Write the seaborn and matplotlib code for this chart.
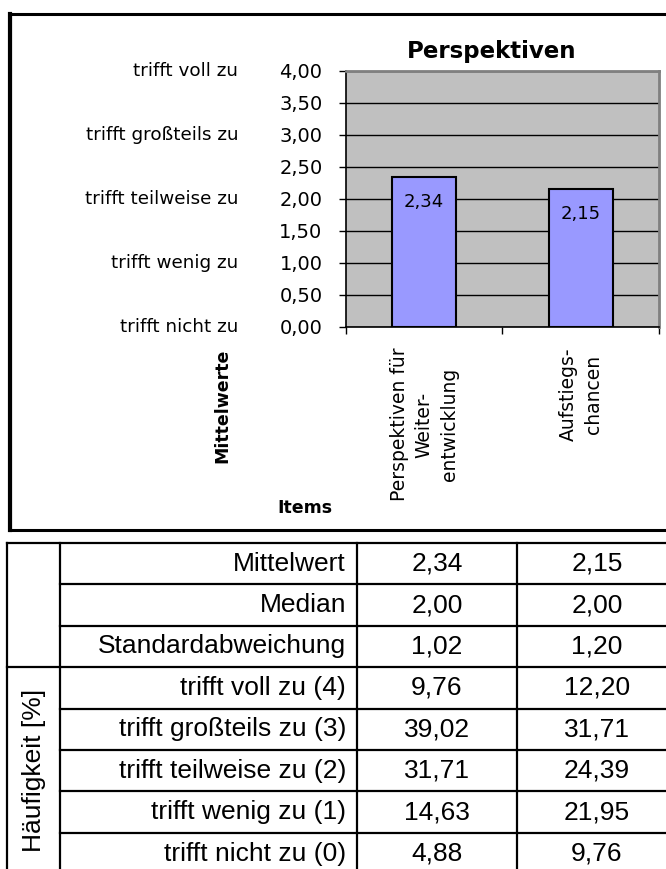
import numpy as np
import pandas as pd
import matplotlib
matplotlib.use("Agg")
import matplotlib.pyplot as plt
import matplotlib.transforms as mtransforms
from matplotlib.ticker import FuncFormatter, FixedLocator
from matplotlib.patches import Rectangle
import seaborn as sns

# ---------------- data ----------------
items = ["Perspektiven für\nWeiter-\nentwicklung", "Aufstiegs-\nchancen"]
mittelwert = [2.34, 2.15]
median = [2.00, 2.00]
std_abw = [1.02, 1.20]
scale_labels = ["trifft nicht zu", "trifft wenig zu", "trifft teilweise zu",
                "trifft großteils zu", "trifft voll zu"]
scale_values = [0, 1, 2, 3, 4]
freq_labels = ["trifft voll zu (4)", "trifft großteils zu (3)", "trifft teilweise zu (2)",
               "trifft wenig zu (1)", "trifft nicht zu (0)"]
freq_item1 = [9.76, 39.02, 31.71, 14.63, 4.88]
freq_item2 = [12.20, 31.71, 24.39, 21.95, 9.76]
stat_labels = ["Mittelwert", "Median", "Standardabweichung"]

df = pd.DataFrame({"item": items, "mittelwert": mittelwert})

def de(v):
    return f"{v:.2f}".replace(".", ",")

# ---------------- figure ----------------
W, H = 666, 869
fig = plt.figure(figsize=(W / 100, H / 100), dpi=100)
fig.patch.set_facecolor("white")

# background/overlay axes in pixel coordinates (frame + table)
bg = fig.add_axes([0, 0, 1, 1], zorder=0)
bg.set_xlim(0, W)
bg.set_ylim(H, 0)
bg.axis("off")

# chart frame
bg.add_patch(Rectangle((9.5, 14), 700, 516, fill=False, edgecolor="black", linewidth=2.2))
bg.plot([9.5, 9.5], [14, 530], color="black", linewidth=3.0)

# chart axes
ax = fig.add_axes([346 / W, 1 - 327 / H, 313 / W, 256 / H], zorder=2)
ax.set_facecolor("#C0C0C0")

sns.barplot(data=df, x="item", y="mittelwert", color="#9999FF", saturation=1,
            edgecolor="black", linewidth=1.5, width=0.41, ax=ax, zorder=3)

ax.set_xlim(-0.5, 1.5)
ax.set_ylim(0, 4)
ax.yaxis.set_major_locator(FixedLocator(np.arange(0, 4.01, 0.5)))
ax.yaxis.set_major_formatter(FuncFormatter(lambda v, p: de(v)))
ax.grid(axis="y", color="black", linewidth=1.0, zorder=1)
ax.set_axisbelow(True)
ax.set_xlabel("")
ax.set_ylabel("")

for s in ["top", "right"]:
    ax.spines[s].set_color("#808080")
    ax.spines[s].set_linewidth(2)
for s in ["left", "bottom"]:
    ax.spines[s].set_color("black")
    ax.spines[s].set_linewidth(1.2)

ax.tick_params(axis="y", direction="out", length=5, width=1, pad=12,
               labelsize=14, colors="black")
ax.tick_params(axis="x", which="major", length=0, pad=15, labelsize=13.5,
               labelrotation=90)
ax.xaxis.set_minor_locator(FixedLocator([-0.5, 0.5, 1.5]))
ax.tick_params(axis="x", which="minor", direction="out", length=5, width=1)
for lab in ax.get_xticklabels():
    lab.set_linespacing(1.41)
    lab.set_multialignment("center")

# value labels inside bars
for i, v in enumerate(mittelwert):
    ax.annotate(de(v), xy=(i, v), xytext=(0, -25), textcoords="offset pixels",
                ha="center", va="center", fontsize=13, zorder=5)

# verbal scale labels left of the axis
trans = mtransforms.blended_transform_factory(ax.transAxes, ax.transData)
for lab, val in zip(scale_labels, scale_values):
    ax.text(-0.345, val, lab, transform=trans, ha="right", va="center",
            fontsize=13.2, clip_on=False)

# title and axis titles
fig.text(492 / W, 1 - 58 / H, "Perspektiven", ha="center", va="baseline",
         fontsize=16.5, fontweight="bold")
fig.text(222 / W, 1 - 406 / H, "Mittelwerte", ha="center", va="center",
         rotation=90, fontsize=12.5, fontweight="bold")
fig.text(305 / W, 1 - 508 / H, "Items", ha="center", va="center",
         fontsize=12.5, fontweight="bold")

# ---------------- table ----------------
col_x = [7, 60, 357, 517, 700]
row_h = 41.4
row_y = [543 + i * row_h for i in range(9)]
lw = 1.6
for i, y in enumerate(row_y):
    x0 = col_x[0] if i in (0, 3, 8) else col_x[1]
    bg.plot([x0, col_x[-1]], [y, y], color="black", linewidth=lw, solid_capstyle="projecting")
for x in col_x[:-1]:
    bg.plot([x, x], [row_y[0], row_y[-1]], color="black", linewidth=lw, solid_capstyle="projecting")

tfont = dict(family="Liberation Sans", fontsize=19, color="black")
row_labels = stat_labels + freq_labels
col1 = [mittelwert[0], median[0], std_abw[0]] + freq_item1
col2 = [mittelwert[1], median[1], std_abw[1]] + freq_item2
for r, lab in enumerate(row_labels):
    yc = (row_y[r] + row_y[r + 1]) / 2
    bg.text(346, yc, lab, ha="right", va="center", **tfont)
    bg.text(437, yc, de(col1[r]), ha="center", va="center", **tfont)
    bg.text(597, yc, de(col2[r]), ha="center", va="center", **tfont)

bg.text(34, (row_y[3] + row_y[8]) / 2, "Häufigkeit [%]", rotation=90,
        ha="center", va="center", **tfont)

fig.savefig("out.png", dpi=100, facecolor="white")
